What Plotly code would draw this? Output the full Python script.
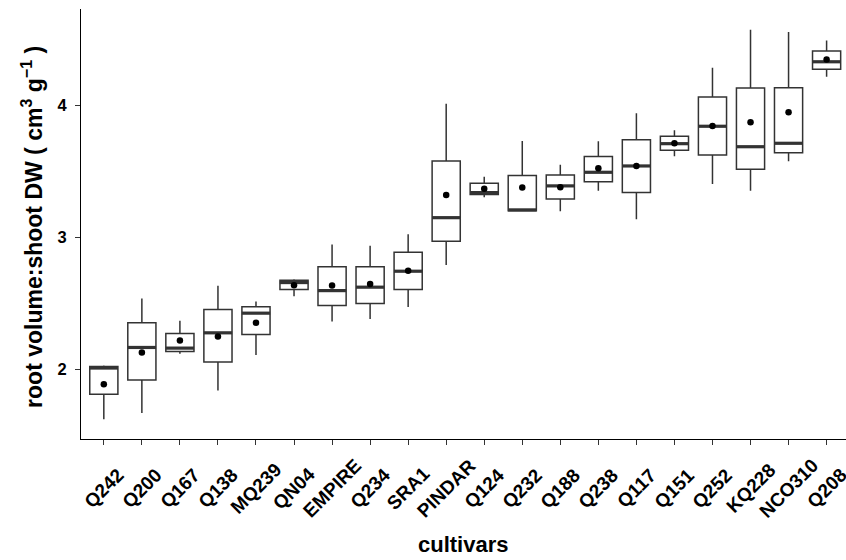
import plotly.graph_objects as go

cultivars = ["Q242", "Q200", "Q167", "Q138", "MQ239", "QN04", "EMPIRE", "Q234", "SRA1", "PINDAR",
             "Q124", "Q232", "Q188", "Q238", "Q117", "Q151", "Q252", "KQ228", "NCO310", "Q208"]
lower = [1.62, 1.667, 2.116, 1.838, 2.106, 2.553, 2.361, 2.379, 2.47, 2.79,
         3.303, 3.20, 3.197, 3.353, 3.136, 3.614, 3.404, 3.353, 3.576, 4.217]
q1 = [1.81, 1.917, 2.133, 2.053, 2.262, 2.603, 2.482, 2.497, 2.603, 2.97,
      3.323, 3.20, 3.29, 3.421, 3.338, 3.659, 3.623, 3.515, 3.641, 4.273]
median = [2.008, 2.164, 2.159, 2.275, 2.424, 2.656, 2.595, 2.621, 2.742, 3.148,
          3.338, 3.207, 3.389, 3.492, 3.54, 3.709, 3.841, 3.686, 3.712, 4.33]
q3 = [2.02, 2.351, 2.27, 2.452, 2.472, 2.674, 2.775, 2.775, 2.886, 3.578,
      3.409, 3.467, 3.472, 3.611, 3.739, 3.765, 4.063, 4.131, 4.133, 4.411]
upper = [2.027, 2.535, 2.366, 2.631, 2.512, 2.682, 2.944, 2.936, 3.023, 4.012,
         3.459, 3.73, 3.55, 3.727, 3.939, 3.811, 4.285, 4.573, 4.555, 4.492]
means = [1.886, 2.126, 2.217, 2.247, 2.351, 2.636, 2.633, 2.646, 2.745, 3.32,
         3.368, 3.376, 3.379, 3.523, 3.54, 3.712, 3.843, 3.871, 3.947, 4.347]
y_ticks = [2, 3, 4]
x_title = "cultivars"
y_title = "root volume:shoot DW ( cm<sup>3</sup> g<sup>\u22121</sup> )"

font_family = "Liberation Sans, Arial, sans-serif"

fig = go.Figure()
fig.add_trace(go.Box(
    x=cultivars, q1=q1, median=median, q3=q3, lowerfence=lower, upperfence=upper,
    width=0.74, whiskerwidth=0, fillcolor="white",
    line=dict(color="#333333", width=1.5), boxpoints=False, hoverinfo="skip",
    showlegend=False,
))
fig.add_trace(go.Scatter(
    x=cultivars, y=median, mode="markers",
    marker=dict(symbol="line-ew", size=20.3, line=dict(color="#333333", width=3.2)),
    showlegend=False, hoverinfo="skip",
))
fig.add_trace(go.Scatter(
    x=cultivars, y=means, mode="markers",
    marker=dict(symbol="circle", size=6.5, color="black"),
    showlegend=False, hoverinfo="skip",
))

# x tick labels: rotated, centred under each tick
for c in cultivars:
    fig.add_annotation(
        x=c, xref="x", y=-0.1155, yref="paper", text="<b>%s</b>" % c,
        textangle=-45, xanchor="center", yanchor="middle", showarrow=False,
        font=dict(size=19, family=font_family, color="black"),
    )
fig.add_annotation(
    x=0.5, xref="paper", y=-0.2456, yref="paper", text="<b>%s</b>" % x_title,
    xanchor="center", yanchor="middle", showarrow=False,
    font=dict(size=22, family=font_family, color="black"),
)
fig.add_annotation(
    x=-0.064, xref="paper", y=0.4934, yref="paper", text="<b>%s</b>" % y_title,
    textangle=-90, xanchor="center", yanchor="middle", showarrow=False,
    font=dict(size=23, family=font_family, color="black"),
)

fig.update_layout(
    width=846, height=560,
    margin=dict(l=81, r=0, t=9, b=121, pad=0),
    paper_bgcolor="white", plot_bgcolor="white",
    font=dict(family=font_family, color="black"),
    xaxis=dict(
        type="category", range=[-0.6, 19.51], automargin=False,
        showgrid=False, zeroline=False, showticklabels=False,
        showline=True, linecolor="black", linewidth=1.2,
        ticks="outside", ticklen=5, tickwidth=1.1, tickcolor="#333333",
    ),
    yaxis=dict(
        range=[1.47, 4.73], tickvals=y_ticks, ticktext=["<b>%d</b>" % v for v in y_ticks],
        automargin=False, ticklabelstandoff=5,
        showgrid=False, zeroline=False,
        showline=True, linecolor="black", linewidth=1.2,
        ticks="outside", ticklen=5, tickwidth=1.1, tickcolor="#333333",
        tickfont=dict(size=16.5, family=font_family, color="black"),
    ),
)
fig.write_html("out.html", config={"displayModeBar": False},
               post_script="document.body.style.margin='0px';")
